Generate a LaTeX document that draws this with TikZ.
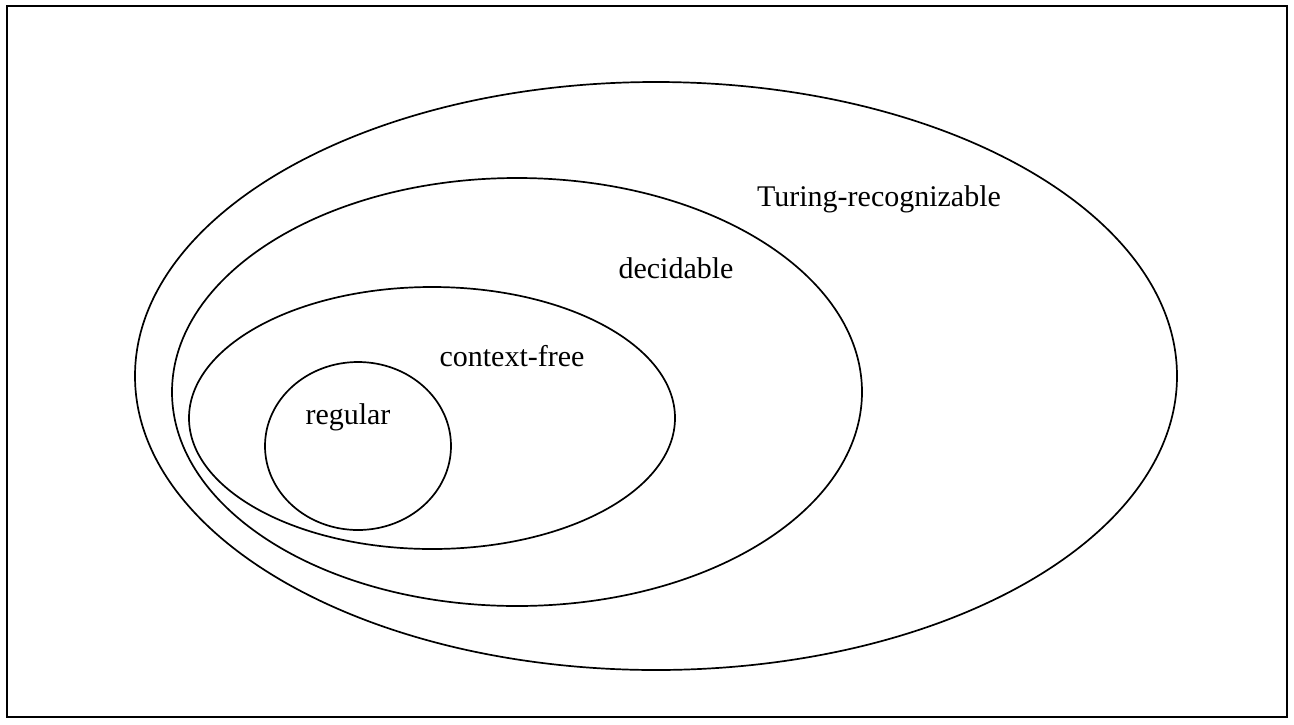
\documentclass[tikz,border=0pt]{standalone}
\usepackage{fontspec}
\setmainfont{Liberation Serif}
\begin{document}
\begin{tikzpicture}[x=1pt,y=-1pt,
		lang/.style={line width=1.7pt},
		lbl/.style={anchor=base,inner sep=0pt,font=\fontsize{30}{36}\selectfont}]
		\useasboundingbox (0,0) rectangle (1294,724);
		\draw[line width=2.4pt] (7,6) rectangle (1287,717);
		
		\draw[lang] (656,376) ellipse [x radius=521, y radius=294];
		\draw[lang] (517,392) ellipse [x radius=345, y radius=214];
		\draw[lang] (432,418) ellipse [x radius=243, y radius=131];
		\draw[lang] (358,446) ellipse [x radius=93, y radius=84];
		
		\node[lbl] (tr) at (879,206) {Turing-recognizable};
		\node[lbl] (dec) at (676,278) {decidable};
		\node[lbl] (cf) at (512,366) {context-free};
		\node[lbl] (reg) at (348,424) {regular};
	\end{tikzpicture}
\end{document}
